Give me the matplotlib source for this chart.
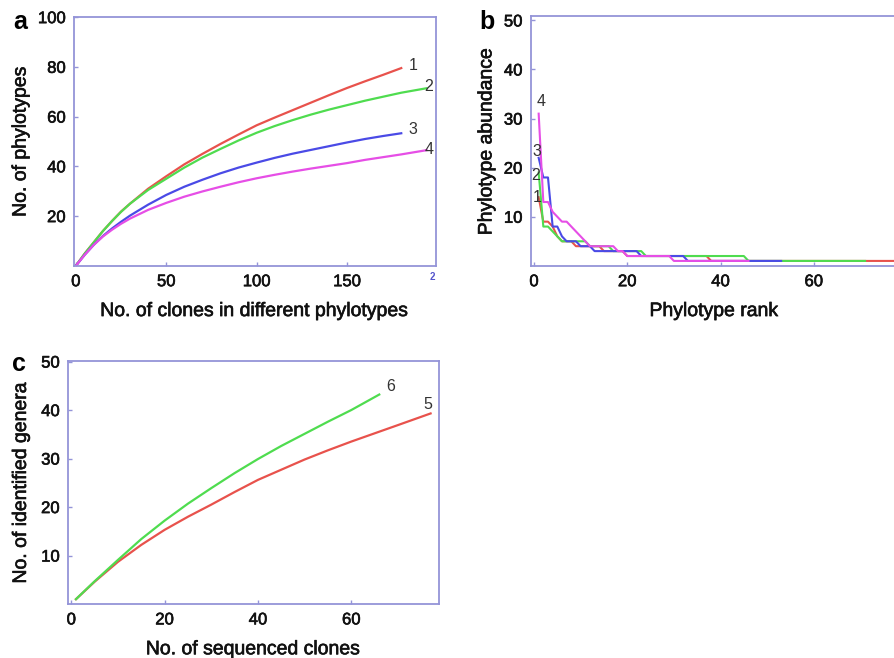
import matplotlib.pyplot as plt
import matplotlib.patheffects as pe

plt.rcParams["font.family"] = ["Liberation Sans", "DejaVu Sans"]

spine_col = "#9494d8"
red = "#e8524c"
green = "#4fdc4f"
blue = "#4a4ae6"
magenta = "#e64ee6"

# panel a: rarefaction curves (clones vs phylotypes)
a_x1 = [0, 5, 10, 15, 20, 25, 30, 40, 50, 60, 70, 80, 90, 100, 110, 120, 130, 140, 150, 160, 170, 180]
a_y1 = [0, 5, 9.5, 14, 18, 21.8, 25, 31, 36, 40.8, 45, 49, 52.8, 56.5, 59.6, 62.6, 65.6, 68.6, 71.5, 74.2, 76.8, 79.5]
a_x2 = [0, 5, 10, 15, 20, 25, 30, 40, 50, 60, 70, 80, 90, 100, 110, 120, 130, 140, 150, 160, 170, 180, 194]
a_y2 = [0, 5, 9.5, 14, 18, 21.7, 25, 30.5, 35, 39.5, 43.5, 47, 50.4, 53.5, 56.2, 58.6, 60.8, 62.8, 64.6, 66.4, 68, 69.6, 71.4]
a_x3 = [0, 5, 10, 15, 20, 25, 30, 40, 50, 60, 70, 80, 90, 100, 110, 120, 130, 140, 150, 160, 170, 180]
a_y3 = [0, 4.5, 8.5, 12, 15, 17.7, 20.2, 24.6, 28.5, 31.8, 34.6, 37.2, 39.5, 41.5, 43.4, 45.1, 46.6, 48.1, 49.6, 51, 52.2, 53.3]
a_x4 = [0, 5, 10, 15, 20, 25, 30, 40, 50, 60, 70, 80, 90, 100, 110, 120, 130, 140, 150, 160, 170, 180, 194]
a_y4 = [0, 4.5, 8.5, 11.8, 14.5, 16.9, 19, 22.5, 25.3, 27.8, 29.9, 31.8, 33.6, 35.2, 36.6, 37.9, 39.1, 40.2, 41.3, 42.6, 43.7, 44.8, 46.5]

# panel b: rank-abundance (abundance per rank, starting at rank 1)
b_1 = [14, 9, 9, 8, 6, 5, 5, 5, 4, 4, 4, 4, 4, 4, 3, 3, 3, 3, 3] + [2] * 18 + [1] * 42
b_2 = [19, 8, 8, 7, 6, 5, 5, 5, 5, 5, 5] + [4] * 5 + [3] * 7 + [2] * 22 + [1] * 26
b_3 = [22, 18, 18, 8, 8, 6, 5, 5, 5, 4, 4, 4] + [3] * 10 + [2] * 10 + [1] * 21
b_4 = [31, 13, 13, 11, 10, 9, 9, 8, 7, 6, 5] + [4] * 6 + [3] * 2 + [2] * 10 + [1] * 17

# panel c: genera vs sequenced clones
c_x5 = [1, 5, 10, 15, 20, 25, 30, 35, 40, 45, 50, 55, 60, 65, 70, 77]
c_y5 = [1, 4.6, 8.7, 12.2, 15.3, 18.0, 20.5, 23.1, 25.6, 27.7, 29.8, 31.7, 33.5, 35.2, 36.9, 39.3]
c_x6 = [1, 5, 10, 15, 20, 25, 30, 35, 40, 45, 50, 55, 60, 66]
c_y6 = [1, 4.7, 9.1, 13.4, 17.2, 20.7, 23.9, 27.0, 29.9, 32.6, 35.1, 37.6, 40.0, 43.2]

# slight stroke so the text looks as heavy as in the scanned figure
heavy = [pe.withStroke(linewidth=0.45, foreground="#111111")]


def style_axes(ax):
    for s in ax.spines.values():
        s.set_color(spine_col)
        s.set_linewidth(1.3)
    ax.tick_params(direction="in", length=3, width=1, color=spine_col,
                   labelsize=12, labelcolor="#111111", pad=6)
    for lab in ax.get_xticklabels() + ax.get_yticklabels():
        lab.set_path_effects(heavy)
    ax.xaxis.label.set_path_effects(heavy)
    ax.yaxis.label.set_path_effects(heavy)


fig = plt.figure(figsize=(8.95, 6.58), dpi=100)

# ---- a
ax = fig.add_axes([0.0827, 0.596, 0.404, 0.378])
ax.plot(a_x1, a_y1, color=red, lw=1.6)
ax.plot(a_x2, a_y2, color=green, lw=1.6)
ax.plot(a_x3, a_y3, color=blue, lw=1.6)
ax.plot(a_x4, a_y4, color=magenta, lw=1.6)
for x, y, t in [(184, 80.5, "1"), (192.5, 72, "2"), (184, 55, "3"), (193, 46.6, "4")]:
    ax.text(x, y, t, fontsize=11.5, color="#333333", ha="left", va="center")
ax.set_xlim(-1, 199)
ax.set_ylim(0, 100)
ax.set_xticks([0, 50, 100, 150])
ax.set_yticks([20, 40, 60, 80, 100])
ax.set_xlabel("No. of clones in different phylotypes", fontsize=14, labelpad=10,
              color="#111111")
ax.set_ylabel("No. of phylotypes", fontsize=14, labelpad=6, color="#111111")
style_axes(ax)
ax.text(197, -4.5, "2", fontsize=7, color="#5555cc", ha="center", va="center",
        fontweight="bold")
fig.text(0.022, 0.967, "a", fontsize=18, fontweight="bold", ha="center", va="center")

# ---- b
ax = fig.add_axes([0.593, 0.596, 0.41, 0.379])
for vals, col in [(b_1, red), (b_2, green), (b_3, blue), (b_4, magenta)]:
    ranks = list(range(1, len(vals) + 1))
    ax.plot(ranks, vals, color=col, lw=1.5)
for x, y, t in [(1.6, 33.5, "4"), (0.7, 23.2, "3"), (0.4, 18.5, "2"), (0.6, 14, "1")]:
    ax.text(x, y, t, fontsize=11.5, color="#333333", ha="center", va="center")
ax.set_xlim(-0.7, 78)
ax.set_ylim(0, 50.8)
ax.set_xticks([0, 20, 40, 60])
ax.set_yticks([10, 20, 30, 40, 50])
ax.set_xlabel("Phylotype rank", fontsize=14, labelpad=10, color="#111111")
ax.set_ylabel("Phylotype abundance", fontsize=14, labelpad=6, color="#111111")
style_axes(ax)
fig.text(0.544, 0.967, "b", fontsize=18, fontweight="bold", ha="center", va="center")

# ---- c
ax = fig.add_axes([0.076, 0.082, 0.4145, 0.370])
ax.plot(c_x5, c_y5, color=red, lw=1.6)
ax.plot(c_x6, c_y6, color=green, lw=1.6)
ax.text(68.4, 44.8, "6", fontsize=11.5, color="#333333", ha="center", va="center")
ax.text(76.4, 41.2, "5", fontsize=11.5, color="#333333", ha="center", va="center")
ax.set_xlim(-0.7, 78.8)
ax.set_ylim(0, 50.2)
ax.set_xticks([0, 20, 40, 60])
ax.set_yticks([10, 20, 30, 40, 50])
ax.set_xlabel("No. of sequenced clones", fontsize=14, labelpad=10, color="#111111")
ax.set_ylabel("No. of identified genera", fontsize=14, labelpad=8, color="#111111")
style_axes(ax)
fig.text(0.021, 0.447, "c", fontsize=18, fontweight="bold", ha="center", va="center")

fig.savefig("out.png", dpi=100)
